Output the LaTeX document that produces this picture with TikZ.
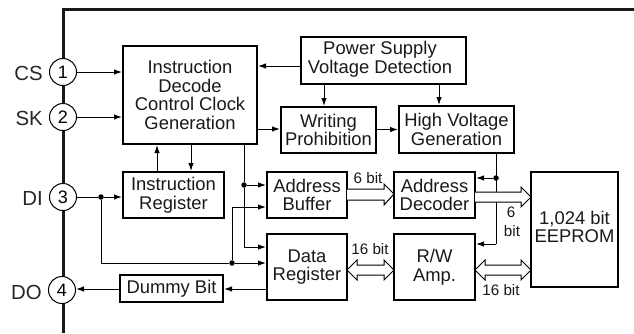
\documentclass[tikz,border=0pt]{standalone}
\usepackage{fontspec}
\setmainfont{Liberation Sans}
\usetikzlibrary{arrows.meta,calc}
\tikzset{
  x=1pt,y=-1pt,
  block/.style={draw,line width=2pt,align=center,inner sep=0pt,font=\fontsize{18.4}{18.7}\selectfont,text=black!90},
  pin/.style={draw,circle,fill=white,line width=1pt,minimum size=27pt,inner sep=0pt,font=\fontsize{18}{18}\selectfont},
  pinlabel/.style={anchor=east,inner sep=0pt,font=\fontsize{20.4}{22}\selectfont,text=black!85},
  bitlabel/.style={inner sep=0pt,font=\fontsize{15.2}{16}\selectfont,text=black!90},
  wire/.style={line width=1pt},
  arr/.style={wire,-{Latex[length=8pt,width=5.5pt]}},
  dot/.style={circle,fill=black,inner sep=0pt,minimum size=5.5pt},
  hollow/.style={draw,line width=1pt,fill=white,line join=miter},
}
\newcommand{\boxat}[6]{\node[block,minimum width=#4pt-#3pt,minimum height=#6pt-#5pt] (#1) at ({(#3+#4)/2},{(#5+#6)/2}) {#2};}
\begin{document}
\begin{tikzpicture}
\useasboundingbox (0,0) rectangle (634,333);
% package outline
\coordinate (ftop) at (63,9);
\coordinate (fbot) at (63,333);
\coordinate (fright) at (634,9);
\draw[line width=3pt,black!90] (fbot) -- (ftop) -- (fright);
% pins
\node[pin] (p1) at (63,72) {1};
\node[pin] (p2) at (63,117) {2};
\node[pin] (p3) at (63,197) {3};
\node[pin] (p4) at (62,290) {4};
\node[pinlabel] (lcs) at (43,73) {CS};
\node[pinlabel] (lsk) at (43,118) {SK};
\node[pinlabel] (ldi) at (43,198) {DI};
\node[pinlabel] (ldo) at (42,292) {DO};
% blocks
\boxat{idc}{Instruction\\Decode\\Control Clock\\Generation}{123}{257}{46}{144}
\boxat{psv}{\begin{tabular}{@{}c@{}}Power Supply\\Voltage Detection\end{tabular}\hspace*{7pt}}{301}{466}{37}{84}
\boxat{wp}{Writing\\Prohibition}{281}{376}{107}{153}
\boxat{hv}{High Voltage\\Generation}{399}{514}{106}{153}
\boxat{ir}{Instruction\\Register}{123}{224}{172}{218}
\boxat{ab}{Address\\Buffer}{267}{347}{172}{218}
\boxat{ad}{Address\\Decoder}{394}{475}{172}{218}
\boxat{dr}{Data\\Register}{267}{347}{234}{300}
\boxat{rw}{R/W\\Amp.}{394}{475}{234}{300}
\boxat{ee}{\raisebox{6pt}{\begin{tabular}{@{}c@{}}1,024 bit\\EEPROM\end{tabular}}}{531}{618}{172}{287}
\boxat{db}{Dummy Bit}{120}{223}{275}{302}
% wires
\draw[arr] (p1) -- (p1 -| idc.west);
\draw[arr] (p2) -- (p2 -| idc.west);
\coordinate (a) at (301,66);
\draw[arr] (a) -- (a -| idc.east);
\coordinate (b) at (257,129);
\draw[arr] (b) -- (b -| wp.west);
\coordinate (c) at (324,84);
\draw[arr] (c) -- (c |- wp.north);
\coordinate (d) at (439,84);
\draw[arr] (d) -- (d |- hv.north);
\draw[arr] (wp.east |- hv.west) -- (hv.west);
\coordinate (e) at (157,172);
\draw[arr] (e) -- (e |- idc.south);
\coordinate (f) at (191,144);
\draw[arr] (f) -- (f |- ir.north);
% control line to address buffer and data register
\coordinate (g) at (244,144);
\coordinate (gd) at (244,247);
\node[dot] (j1) at (244,185) {};
\draw[wire] (g) -- (j1) -- (gd);
\draw[arr] (gd) -- (gd -| dr.west);
\draw[arr] (j1) -- (j1 -| ab.west);
% DI
\node[dot] (j2) at (101,197) {};
\coordinate (h) at (101,263);
\node[dot] (j3) at (232,263) {};
\coordinate (i) at (232,207);
\draw[wire] (p3) -- (j2);
\draw[arr] (j2) -- (j2 -| ir.west);
\draw[wire] (j2) -- (h) -- (j3);
\draw[arr] (j3) -- (j3 -| dr.west);
\draw[wire] (j3) -- (i);
\draw[arr] (i) -- (i -| ab.west);
% DO
\coordinate (k) at (267,289);
\draw[arr] (k) -- (k -| db.east);
\coordinate (l) at (120,289);
\draw[arr] (l) -- (l -| p4.east);
% high voltage line
\node[dot] (j4) at (496,178) {};
\coordinate (m) at (496,153);
\coordinate (n) at (496,244);
\draw[wire] (m) -- (n);
\draw[arr] (j4) -- (j4 -| ad.east);
\draw[arr] (n) -- (n -| rw.east);
% hollow arrows
\draw[hollow] (347,189) -- (384,189) -- (384,184) -- (394,194) -- (384,205) -- (384,200) -- (347,200);
\draw[hollow] (475,192) -- (521,192) -- (521,187) -- (531,197) -- (521,207) -- (521,202) -- (475,202);
\draw[hollow] (347,270) -- (357,260) -- (357,265) -- (384,265) -- (384,260) -- (394,270) -- (384,280) -- (384,275) -- (357,275) -- (357,280) -- cycle;
\draw[hollow] (475,270) -- (485,260) -- (485,265) -- (521,265) -- (521,260) -- (531,270) -- (521,280) -- (521,275) -- (485,275) -- (485,280) -- cycle;
% bit labels
\node[bitlabel] (t1) at (368,178) {6 bit};
\node[bitlabel] (t2) at (511,212) {6};
\node[bitlabel] (t3) at (512,231) {bit};
\node[bitlabel] (t4) at (370,249) {16 bit};
\node[bitlabel] (t5) at (501,290) {16 bit};
\end{tikzpicture}
\end{document}
